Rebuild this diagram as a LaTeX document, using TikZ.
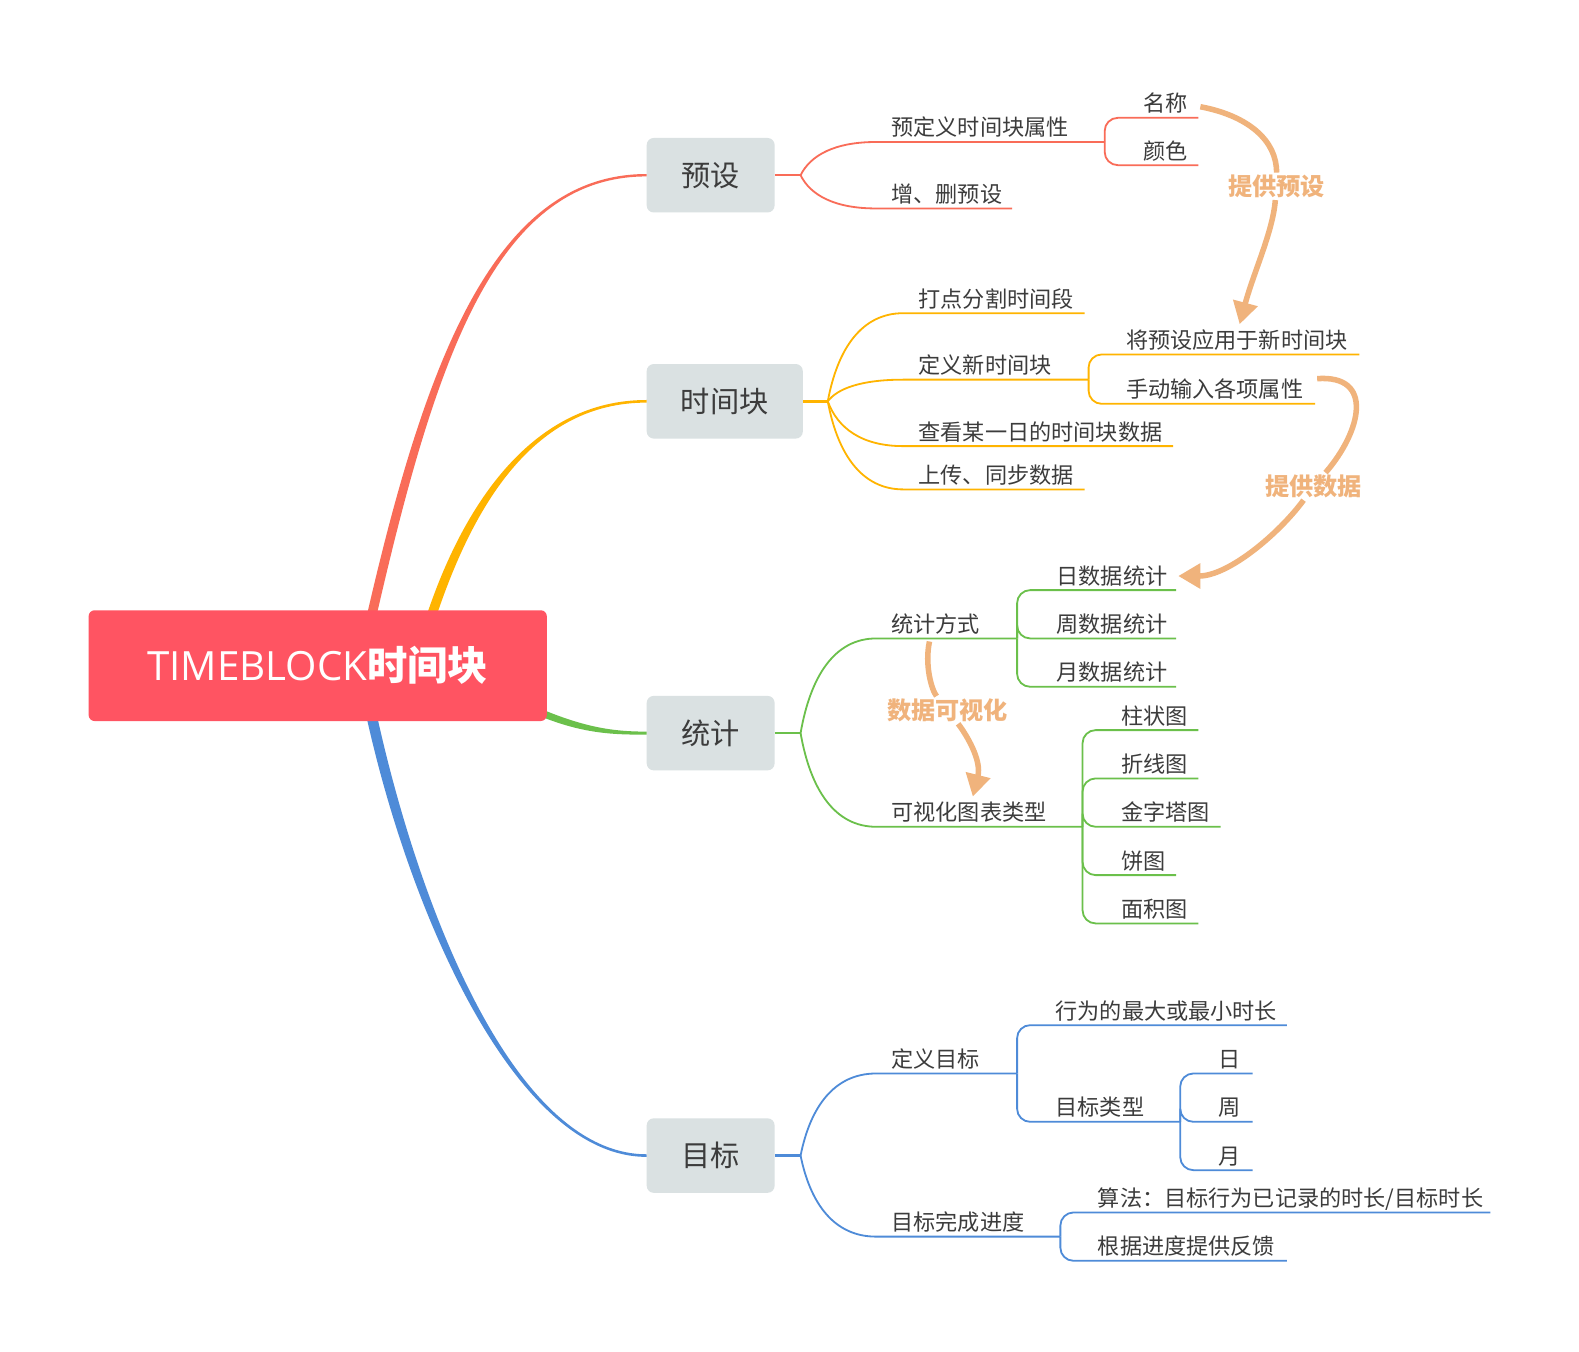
\documentclass[tikz,border=0pt]{standalone}
\usepackage{fontspec}
\setmainfont{Noto Sans CJK SC}
\newfontfamily\latinfont{Open Sans}
\usetikzlibrary{calc,arrows.meta}
\definecolor{cred}{HTML}{F96C58}
\definecolor{cyel}{HTML}{FFB400}
\definecolor{cgrn}{HTML}{6BC04B}
\definecolor{cblu}{HTML}{4E8BD8}
\definecolor{croot}{HTML}{FF5462}
\definecolor{cbox}{HTML}{DAE1E2}
\definecolor{ctxt}{HTML}{3C3C3C}
\definecolor{corg}{HTML}{F0B37C}
\newcommand\leafsize{\fontsize{22}{26}\selectfont}
\newcommand\topsize{\fontsize{29}{34}\selectfont}
\newcommand\relsize{\fontsize{24}{28}\selectfont}
% leaf: name, text x, line y, line start x, line end x, text
\newcommand\mmleaf[6]{%
  \node[leaf] (#1) at (#2,#3-6) {#6};
  \coordinate (#1L) at (#4,#3);
  \coordinate (#1R) at (#5,#3);}
% curved connector from split point to leaf underline
\newcommand\mmc[3]{\draw[lk,#1] let \p1=(#2), \p2=(#3L) in
  (#2) .. controls (\x1+0.13*\x2-0.13*\x1, \y1+0.6*\y2-0.6*\y1)
  and (\x1+0.45*\x2-0.45*\x1, \y2) .. (#3L) -- (#3R);}
% bracket connector from parent underline end to child underline
\newcommand\mmb[3]{\draw[lk,#1,rounded corners=13pt] (#2R) |- (#3R);}
\begin{document}
\begin{tikzpicture}[x=1pt,y=-1pt,
  leaf/.style={anchor=base west, inner sep=0pt, font=\leafsize, text=ctxt},
  topic/.style={rectangle, rounded corners=7pt, fill=cbox, minimum height=74pt,
    inner sep=0pt, font=\topsize, text=ctxt, anchor=west},
  lk/.style={line width=1.8pt},
  stub/.style={line width=2.4pt},
  relnode/.style={font=\bfseries\relsize, text=corg, inner sep=2pt},
  relline/.style={draw=corg, line width=5.5pt},
  reltip/.style={-{Triangle[width=24pt,length=22pt]}}]
\fill[white] (0,0) rectangle (1568,1342);
\useasboundingbox (0,0) rectangle (1568,1342);

% main topics
\node[topic, minimum width=127pt] (yu) at (642,174) {预设};
\node[topic, minimum width=155pt] (sj) at (642,398.5) {时间块};
\node[topic, minimum width=127pt] (tj) at (642,728) {统计};
\node[topic, minimum width=127pt] (mb) at (642,1147.5) {目标};

% main branch base points and controls
\coordinate (rb) at (368,616);  \coordinate (rc1) at (427.5,356); \coordinate (rc2) at (492,174);
\coordinate (yb) at (427,616);  \coordinate (yc1) at (465,500);   \coordinate (yc2) at (530,398.5);
\coordinate (gb) at (533,706);  \coordinate (gc1) at (580,726);   \coordinate (gc2) at (610,728);
\coordinate (bb) at (368,706);  \coordinate (bc1) at (410,900);   \coordinate (bc2) at (510,1147.5);

\fill[cred] ($(rb)+(4.6,1)$) .. controls ($(rc1)+(4.6,1)$) and ($(rc2)+(0,1.2)$) .. ($(yu.west)+(0,1.2)$)
  -- ($(yu.west)+(0,-1.2)$) .. controls ($(rc2)+(0,-1.2)$) and ($(rc1)+(-4.6,-1)$) .. ($(rb)+(-4.6,-1)$) -- cycle;
\fill[cyel] ($(yb)+(4.5,1.4)$) .. controls ($(yc1)+(4.5,1.4)$) and ($(yc2)+(0,1.3)$) .. ($(sj.west)+(0,1.3)$)
  -- ($(sj.west)+(0,-1.3)$) .. controls ($(yc2)+(0,-1.3)$) and ($(yc1)+(-4.5,-1.4)$) .. ($(yb)+(-4.5,-1.4)$) -- cycle;
\fill[cgrn] ($(gb)+(-1.4,3.2)$) .. controls ($(gc1)+(-1.4,3.2)$) and ($(gc2)+(0,1.5)$) .. ($(tj.west)+(0,1.5)$)
  -- ($(tj.west)+(0,-1.5)$) .. controls ($(gc2)+(0,-1.5)$) and ($(gc1)+(1.4,-3.2)$) .. ($(gb)+(1.4,-3.2)$) -- cycle;
\fill[cblu] ($(bb)+(5.1,-1.05)$) .. controls ($(bc1)+(5.1,-1.05)$) and ($(bc2)+(0,-1.3)$) .. ($(mb.west)+(0,-1.3)$)
  -- ($(mb.west)+(0,1.3)$) .. controls ($(bc2)+(0,1.3)$) and ($(bc1)+(-5.1,1.05)$) .. ($(bb)+(-5.1,1.05)$) -- cycle;

% central topic
\node[rectangle, rounded corners=6pt, fill=croot, minimum width=455pt, minimum height=110pt,
  inner sep=0pt, text=white, font=\fontsize{40}{48}\selectfont] (root) at (315.5,661)
  {{\latinfont TIMEBLOCK}{\bfseries 时间块}};

% split points
\coordinate (yuS) at (795,174);
\coordinate (sjS) at (822,398.5);
\coordinate (tjS) at (795,728);
\coordinate (mbS) at (795,1147.5);
\draw[stub,cred] (yu.east) -- (yuS);
\draw[stub,cyel] (sj.east) -- (sjS);
\draw[stub,cgrn] (tj.east) -- (tjS);
\draw[stub,cblu] (mb.east) -- (mbS);

% ---------- 预设
\mmleaf{a1}{885}{141}{870}{1097}{预定义时间块属性}
\mmleaf{a2}{885}{207}{870}{1005}{增、删预设}
\mmleaf{a11}{1135}{117}{1097}{1190}{名称}
\mmleaf{a12}{1135}{164}{1097}{1190}{颜色}
\mmc{cred}{yuS}{a1}
\mmc{cred}{yuS}{a2}
\mmb{cred}{a1}{a11}
\mmb{cred}{a1}{a12}

% ---------- 时间块
\mmleaf{b1}{912}{311}{897}{1077}{打点分割时间段}
\mmleaf{b2}{912}{377}{897}{1081}{定义新时间块}
\mmleaf{b3}{912}{443}{897}{1165}{查看某一日的时间块数据}
\mmleaf{b4}{912}{486}{897}{1077}{上传、同步数据}
\mmleaf{b21}{1118}{352}{1081}{1350}{将预设应用于新时间块}
\mmleaf{b22}{1118}{401}{1081}{1306}{手动输入各项属性}
\mmc{cyel}{sjS}{b1}
\mmc{cyel}{sjS}{b2}
\mmc{cyel}{sjS}{b3}
\mmc{cyel}{sjS}{b4}
\mmb{cyel}{b2}{b21}
\mmb{cyel}{b2}{b22}

% ---------- 统计
\mmleaf{c1}{885}{634}{870}{1010}{统计方式}
\mmleaf{c2}{885}{821}{870}{1075}{可视化图表类型}
\mmleaf{c11}{1049}{586}{1010}{1168}{日数据统计}
\mmleaf{c12}{1049}{634}{1010}{1168}{周数据统计}
\mmleaf{c13}{1049}{682}{1010}{1168}{月数据统计}
\mmleaf{c21}{1113}{725}{1075}{1190}{柱状图}
\mmleaf{c22}{1113}{773}{1075}{1190}{折线图}
\mmleaf{c23}{1113}{821}{1075}{1212}{金字塔图}
\mmleaf{c24}{1113}{869}{1075}{1168}{饼图}
\mmleaf{c25}{1113}{917}{1075}{1190}{面积图}
\mmc{cgrn}{tjS}{c1}
\mmc{cgrn}{tjS}{c2}
\mmb{cgrn}{c1}{c11}
\mmb{cgrn}{c1}{c12}
\mmb{cgrn}{c1}{c13}
\mmb{cgrn}{c2}{c21}
\mmb{cgrn}{c2}{c22}
\mmb{cgrn}{c2}{c23}
\mmb{cgrn}{c2}{c24}
\mmb{cgrn}{c2}{c25}

% ---------- 目标
\mmleaf{d1}{885}{1066}{870}{1010}{定义目标}
\mmleaf{d2}{885}{1228}{870}{1053}{目标完成进度}
\mmleaf{d11}{1048}{1018}{1010}{1278}{行为的最大或最小时长}
\mmleaf{d12}{1048}{1114}{1010}{1172}{目标类型}
\mmleaf{d121}{1210}{1066}{1172}{1244}{日}
\mmleaf{d122}{1210}{1114}{1172}{1244}{周}
\mmleaf{d123}{1210}{1162}{1172}{1244}{月}
\mmleaf{d21}{1090}{1204}{1053}{1480}{算法：目标行为已记录的时长/目标时长}
\mmleaf{d22}{1090}{1252}{1053}{1278}{根据进度提供反馈}
\mmc{cblu}{mbS}{d1}
\mmc{cblu}{mbS}{d2}
\mmb{cblu}{d1}{d11}
\mmb{cblu}{d1}{d12}
\mmb{cblu}{d12}{d121}
\mmb{cblu}{d12}{d122}
\mmb{cblu}{d12}{d123}
\mmb{cblu}{d2}{d21}
\mmb{cblu}{d2}{d22}

% ---------- relationships
\node[relnode] (lab1) at (1267.5,185) {提供预设};
\node[relnode] (lab2) at (1304.5,483) {提供数据};
\node[relnode] (lab3) at (941,705) {数据可视化};
\coordinate (r1a) at (1192,106);
\coordinate (r1b) at (1231,322);
\coordinate (r2a) at (1308,376);
\coordinate (r2b) at (1170,572);
\coordinate (r3a) at (923,637);
\coordinate (r3b) at (966,791);
\draw[relline] (r1a) .. controls (1240,115) and (1268,140) .. (lab1);
\draw[relline,reltip] (lab1) .. controls (1264,230) and (1245,270) .. (r1b);
\draw[relline] (r2a) .. controls (1365,372) and (1352,428) .. (lab2);
\draw[relline,reltip] (lab2) .. controls (1270,530) and (1220,572) .. (r2b);
\draw[relline] (r3a) .. controls (918,660) and (925,685) .. (lab3);
\draw[relline,reltip] (lab3) .. controls (960,730) and (975,755) .. (r3b);
\end{tikzpicture}
\end{document}
